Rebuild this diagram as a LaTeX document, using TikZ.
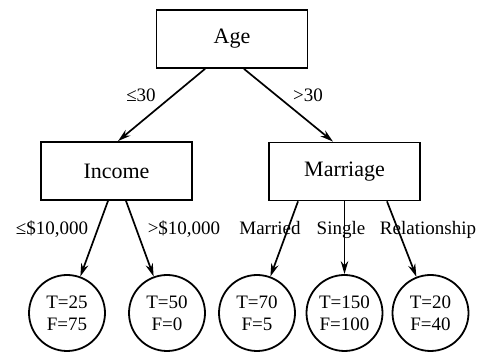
\documentclass[tikz,border=0pt]{standalone}
\usepackage{fontspec}
\setmainfont{Liberation Serif}
\usepackage{tikz}
\usetikzlibrary{arrows.meta}

\tikzset{
  split/.style={draw, line width=1.8pt, minimum width=151pt, minimum height=58pt, inner sep=0pt, font=\fontsize{22}{26}\selectfont},
  leaf/.style={draw, circle, line width=1.8pt, minimum size=76pt, inner sep=0pt, align=center},
  branch/.style={line width=1.7pt, -{Stealth[length=13pt,width=7.5pt]}},
  cond/.style={inner sep=0pt, anchor=base}
}

\begin{document}
\begin{tikzpicture}[x=1pt,y=-1pt,font=\fontsize{19}{22}\selectfont]
            \useasboundingbox (0,0) rectangle (485,352);

            \node[split] at (232,39) (age) {Age};
            \node[split] at (116.5,171) (income) {Income};
            \node[split] at (344.5,171.5) (marriage) {Marriage};

            \node[leaf] at (67,313) (c1) {T=25\\F=75};
            \node[leaf] at (167,313) (c2) {T=50\\F=0};
            \node[leaf] at (257,313) (c3) {T=70\\F=5};
            \node[leaf] at (344.5,313) (c4) {T=150\\F=100};
            \node[leaf] at (430.5,313) (c5) {T=20\\F=40};

            \draw[branch] ([xshift=-27pt]age.south) -- ([xshift=1.5pt]income.north);
            \draw[branch] ([xshift=12pt]age.south) -- ([xshift=-11.5pt]marriage.north);
            \draw[branch] ([xshift=-8.5pt]income.south) -- (c1);
            \draw[branch] ([xshift=9.5pt]income.south) -- (c2);
            \draw[branch] ([xshift=-46.5pt]marriage.south) -- (c3);
            \draw[branch] (marriage.south) -- (c4);
            \draw[branch] ([xshift=42.5pt]marriage.south) -- (c5);

            \node[cond] at (141,102) (l1) {≤30};
            \node[cond] at (308,102) (l2) {>30};
            \node[cond] at (52,235) (l3) {≤\$10,000};
            \node[cond] at (184,235) (l4) {>\$10,000};
            \node[cond] at (270,235) (l5) {Married};
            \node[cond] at (341,235) (l6) {Single};
            \node[cond] at (428,235) (l7) {Relationship};
        \end{tikzpicture}
\end{document}
